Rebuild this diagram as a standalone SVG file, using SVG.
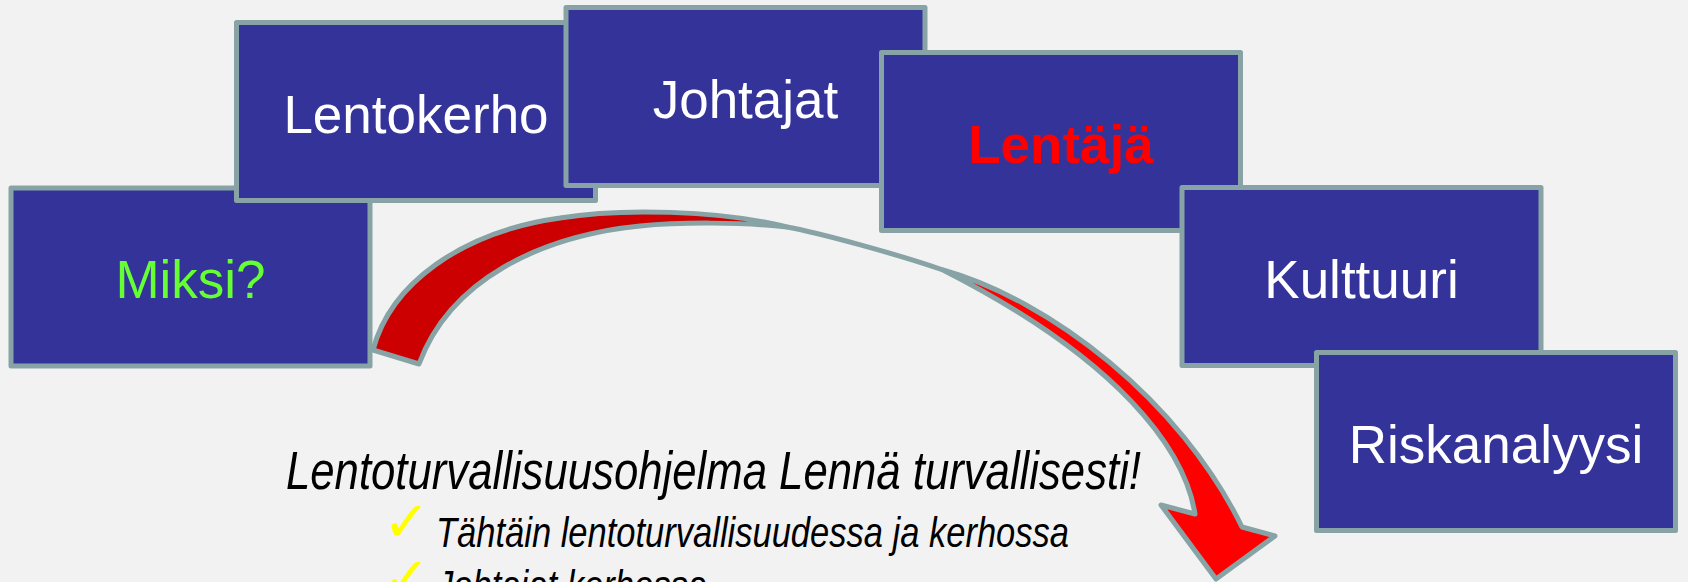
<svg xmlns="http://www.w3.org/2000/svg" width="1688" height="582" viewBox="0 0 1688 582">
<style>
.box{fill:#333399;stroke:#88A3A6;stroke-width:5;stroke-linejoin:round}
.lbl{font-family:"Liberation Sans",Arial,sans-serif;font-size:53px;fill:#FFFFFF;text-anchor:middle}
.arr{stroke:#88A3A6;stroke-width:5;stroke-linejoin:round}
.it{font-family:"Liberation Sans",Arial,sans-serif;font-style:italic;fill:#000000}
.chk{font-family:"DejaVu Sans",sans-serif;font-weight:bold;fill:#FFFF00}
</style>
<rect x="0" y="0" width="1688" height="582" fill="#F2F2F2"/>
<g id="node-miksi">
<rect class="box" x="11" y="188" width="359" height="178"/>
<text class="lbl" x="190.5" y="298" style="fill:#66FF33">Miksi?</text>
</g>
<g id="node-lentokerho">
<rect class="box" x="236.5" y="22.5" width="359" height="178"/>
<text class="lbl" x="416" y="132.5">Lentokerho</text>
</g>
<g id="node-johtajat">
<rect class="box" x="566" y="7.5" width="359" height="178"/>
<text class="lbl" x="745.5" y="117.5">Johtajat</text>
</g>
<g id="node-lentaja">
<rect class="box" x="881.5" y="52.5" width="359" height="178"/>
<text class="lbl" x="1061" y="162.5" style="fill:#FF0000;font-weight:bold">Lentäjä</text>
</g>
<g id="node-kulttuuri">
<rect class="box" x="1182" y="187.5" width="359" height="178"/>
<text class="lbl" x="1361.5" y="297.5">Kulttuuri</text>
</g>
<g id="node-riskanalyysi">
<rect class="box" x="1316.5" y="352.5" width="359" height="178"/>
<text class="lbl" x="1496" y="462.5">Riskanalyysi</text>
</g>
<g id="connectors">
<path class="arr" fill="#CC0000" d="M373,350 C390,285 460,232 560,218 C620,208 720,210 787,227 C740,222 680,222 640,226 C540,236 450,280 419,364 Z"/>
<path class="arr" fill="none" d="M787,227 C820,233 900,255 943,270"/>
<path class="arr" fill="#FF0000" d="M943,270 C1050,300 1180,400 1242,527 L1275,536 L1216,579 L1161,505 L1195,514 C1185,450 1120,360 943,270 Z"/>
</g>
<g id="text-block">
<text class="it" x="286" y="489" font-size="54" textLength="855" lengthAdjust="spacingAndGlyphs">Lentoturvallisuusohjelma Lennä turvallisesti!</text>
<text class="chk" x="383" y="541" font-size="56">✓</text>
<text class="it" x="436" y="547" font-size="42" textLength="633" lengthAdjust="spacingAndGlyphs">Tähtäin lentoturvallisuudessa ja kerhossa</text>
<text class="chk" x="383" y="597" font-size="56">✓</text>
<text class="it" x="436" y="600" font-size="42" textLength="271" lengthAdjust="spacingAndGlyphs">Johtajat kerhossa</text>
</g>
</svg>
